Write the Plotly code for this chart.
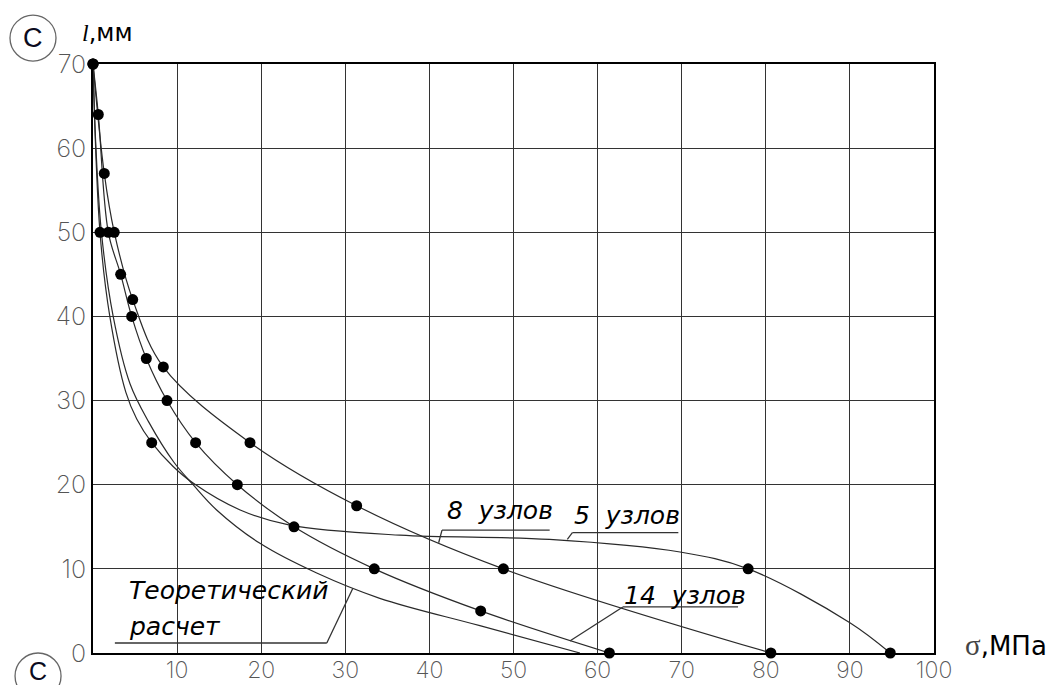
import plotly.graph_objects as go

# ---- data ----
# markers
m14_sigma = [0, 0.63, 1.82, 3.29, 4.60, 6.34, 8.80, 12.2, 17.16, 23.9, 33.45, 46.1, 61.4]
m14_l = [70, 64, 50, 45, 40, 35, 30, 25, 20, 15, 10, 5, 0]
m8_sigma = [0, 1.34, 2.53, 4.72, 8.36, 18.67, 31.35, 48.8, 80.6]
m8_l = [70, 57, 50, 42, 34, 25, 17.5, 10, 0]
m5_sigma = [0, 0.83, 6.98, 77.9, 94.8]
m5_l = [70, 50, 25, 10, 0]

# traced curve for 5 nodes
c5_sigma = [0, 0.83, 2.0, 3.9, 5.2, 6.98, 9.5, 11.9, 17.5, 23.4, 36.5, 54.3, 69.8, 77.9, 90.0, 94.8]
c5_l = [70, 50, 40, 31, 27.8, 25, 22.2, 20.2, 17.0, 15.2, 14.0, 13.5, 12.0, 10, 3.6, 0]

# theoretical curve (no markers)
th_sigma = [0, 0.35, 1.0, 2.4, 4.4, 6.6, 9.6, 11.9, 14.7, 19.9, 26.6, 34.1, 46.0, 57.9]
th_l = [70, 60, 50, 40, 32, 27.5, 22.7, 20, 17.0, 13.0, 9.5, 6.5, 3.25, 0]

x_ticks = [10, 20, 30, 40, 50, 60, 70, 80, 90, 100]
y_ticks = [0, 10, 20, 30, 40, 50, 60, 70]

LINE = "#2a2a2a"
fig = go.Figure()

def curve(x, y):
    fig.add_trace(go.Scatter(x=x, y=y, mode="lines", cliponaxis=False,
                             line=dict(color=LINE, width=1.2, shape="spline", smoothing=1.0),
                             hoverinfo="skip", showlegend=False))

def marks(x, y):
    fig.add_trace(go.Scatter(x=x, y=y, mode="markers", cliponaxis=False,
                             marker=dict(color="black", size=11),
                             showlegend=False))

curve(th_sigma, th_l)
curve(c5_sigma, c5_l)
curve(m8_sigma, m8_l)
curve(m14_sigma, m14_l)
marks(m5_sigma, m5_l)
marks(m8_sigma, m8_l)
marks(m14_sigma, m14_l)

GRID = "#333333"
common = dict(showgrid=True, gridcolor=GRID, gridwidth=1.4, showline=True, linecolor="black",
              linewidth=1.6, mirror=True, zeroline=False, ticks="", automargin=False)
fig.update_xaxes(range=[0, 100], tickvals=x_ticks, ticklabelstandoff=-4,
                 tickfont=dict(family="Inter, sans-serif", size=23, color="#555555", weight=200),
                 **common)
fig.update_yaxes(range=[0, 70], tickvals=y_ticks,
                 tickfont=dict(family="Inter, sans-serif", size=25, color="#555555", weight=200),
                 **common)

lab_font = dict(family="DejaVu Sans, sans-serif", size=25, color="black", style="italic")
ann = []
def label(text, x, y):
    ann.append(dict(x=x, y=y, xref="x", yref="y", text=text, showarrow=False,
                    xanchor="left", yanchor="middle", font=lab_font))

label("Теоретический", 4.0, 7.4)
label("расчет", 4.0, 3.2)
label("8\u00a0\u00a0узлов", 41.9, 16.9)
label("5\u00a0\u00a0узлов", 57.0, 16.3)
label("14\u00a0\u00a0узлов", 62.9, 6.8)

# axis titles
ann.append(dict(x=-0.016, y=1.052, xref="paper", yref="paper", xanchor="left", yanchor="middle",
                showarrow=False,
                text="<span style='font-family:Liberation Serif'><i>l</i></span>,мм",
                font=dict(family="DejaVu Sans, sans-serif", size=24, color="black")))
ann.append(dict(x=1.034, y=0.014, xref="paper", yref="paper", xanchor="left", yanchor="middle",
                showarrow=False,
                text="<span style='font-family:Liberation Serif; color:#444; font-size:29px'>σ</span>,МПа",
                font=dict(family="DejaVu Sans, sans-serif", size=26, color="black")))
# circled letters
ann.append(dict(x=-0.0713, y=1.0442, xref="paper", yref="paper", xanchor="center", yanchor="middle",
                showarrow=False, text="C",
                font=dict(family="Liberation Sans, Arial, sans-serif", size=27, color="#0b0b20")))
ann.append(dict(x=-0.0654, y=-0.030, xref="paper", yref="paper", xanchor="center", yanchor="middle",
                showarrow=False, text="C",
                font=dict(family="Liberation Sans, Arial, sans-serif", size=25, color="#0b0b20")))

shapes = []
def seg(x0, y0, x1, y1):
    shapes.append(dict(type="line", xref="x", yref="y", x0=x0, y0=y0, x1=x1, y1=y1,
                       line=dict(color="#333333", width=1.3)))

# leader lines
seg(2.6, 1.19, 27.8, 1.19); seg(27.8, 1.19, 30.9, 7.7)
seg(41.5, 14.6, 54.3, 14.6); seg(41.5, 14.6, 41.1, 13.1)
seg(57.0, 14.3, 69.6, 14.3); seg(57.0, 14.3, 56.4, 13.5)
seg(63.0, 5.47, 76.7, 5.47); seg(63.0, 5.47, 56.7, 1.43)

# circles
shapes.append(dict(type="circle", xref="paper", yref="paper", x0=-0.0987, x1=-0.044, y0=1.005, y1=1.083,
                   line=dict(color="#666666", width=1.3)))
shapes.append(dict(type="circle", xref="paper", yref="paper", x0=-0.0927, x1=-0.038, y0=-0.078, y1=0.0,
                   line=dict(color="#666666", width=1.3)))

# page body adds an 8px offset; size the figure so the plot area lands where the reference has it
fig.update_layout(width=1050, height=677, margin=dict(l=85, r=124, t=56, b=32, autoexpand=False),
                  paper_bgcolor="white", plot_bgcolor="white",
                  annotations=ann, shapes=shapes, showlegend=False)

fig.write_html("out.html")
